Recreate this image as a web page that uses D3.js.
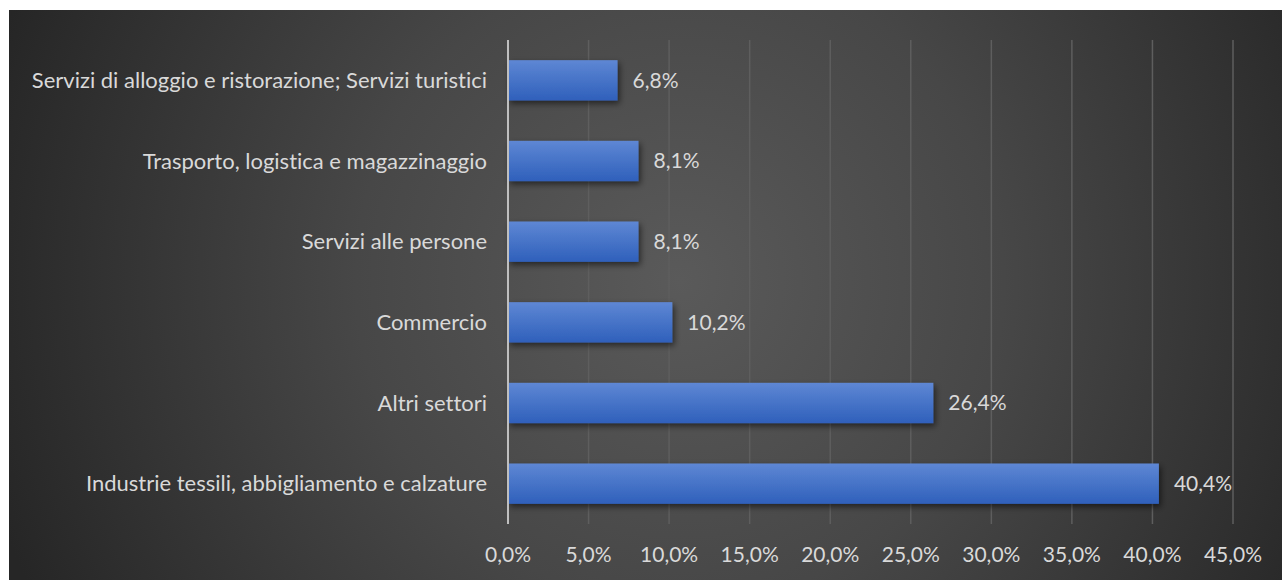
<!DOCTYPE html>
<html><head><meta charset="utf-8">
<script src="https://cdn.jsdelivr.net/npm/d3@7"></script>
<style>html,body{margin:0;padding:0;background:#fff;}svg{display:block;}text{font-variant-ligatures:none;font-feature-settings:"liga" 0;}</style>
</head><body>
<script>
const categories = [
  "Servizi di alloggio e ristorazione; Servizi turistici",
  "Trasporto, logistica e magazzinaggio",
  "Servizi alle persone",
  "Commercio",
  "Altri settori",
  "Industrie tessili, abbigliamento e calzature"
];
const values = [6.8, 8.1, 8.1, 10.2, 26.4, 40.4];
const tickValues = [0, 5, 10, 15, 20, 25, 30, 35, 40, 45];

const W = 1282, H = 580;
const font = "Lato, 'Open Sans', sans-serif";
const fmt = v => v.toFixed(1).replace(".", ",") + "%";

const svg = d3.select("body").append("svg").attr("width", W).attr("height", H);
const defs = svg.append("defs");
const rg = defs.append("radialGradient").attr("id", "bg")
  .attr("gradientUnits", "userSpaceOnUse").attr("cx", 680).attr("cy", 280).attr("r", 720);
rg.append("stop").attr("offset", "0").attr("stop-color", "#5a5a5a");
rg.append("stop").attr("offset", "0.45").attr("stop-color", "#474747");
rg.append("stop").attr("offset", "1").attr("stop-color", "#262626");
const lg = defs.append("linearGradient").attr("id", "bar").attr("x1", 0).attr("y1", 0).attr("x2", 0).attr("y2", 1);
lg.append("stop").attr("offset", "0").attr("stop-color", "#5e87d4");
lg.append("stop").attr("offset", "1").attr("stop-color", "#2f60bb");
const f = defs.append("filter").attr("id", "sh").attr("x", "-10%").attr("y", "-30%").attr("width", "130%").attr("height", "180%");
f.append("feDropShadow").attr("dx", 2).attr("dy", 3).attr("stdDeviation", 3).attr("flood-color", "#000").attr("flood-opacity", 0.55);

svg.append("rect").attr("x", 9).attr("y", 10).attr("width", W - 9).attr("height", H - 10).attr("fill", "url(#bg)");

const x = d3.scaleLinear().domain([0, 45]).range([508, 1233]);
const y = d3.scaleBand().domain(categories).range([40, 524]).paddingInner(0.5).paddingOuter(0.25);

// gridlines
svg.append("g").selectAll("line").data(tickValues.slice(1)).join("line")
  .attr("x1", d => x(d)).attr("x2", d => x(d)).attr("y1", 40).attr("y2", 524)
  .attr("stroke", "#5e5e5e").attr("stroke-width", 1.5);

// x tick labels
svg.append("g").selectAll("text").data(tickValues).join("text")
  .attr("x", d => x(d)).attr("y", 562).attr("text-anchor", "middle")
  .attr("fill", "#d9d9d9").attr("font-family", font).attr("font-size", 21)
  .text(d => fmt(d));

// bars
svg.append("g").selectAll("rect").data(categories).join("rect")
  .attr("x", x(0)).attr("y", (d) => y(d))
  .attr("width", (d, i) => x(values[i]) - x(0)).attr("height", y.bandwidth())
  .attr("fill", "url(#bar)").attr("filter", "url(#sh)");

// axis line
svg.append("line").attr("x1", x(0)).attr("x2", x(0)).attr("y1", 40).attr("y2", 524)
  .attr("stroke", "#bfbfbf").attr("stroke-width", 2);

// category labels
svg.append("g").selectAll("text").data(categories).join("text")
  .attr("x", 487).attr("y", d => y(d) + y.bandwidth() / 2).attr("dy", "0.35em")
  .attr("text-anchor", "end").attr("fill", "#d9d9d9")
  .attr("font-family", font).attr("font-size", 22).text(d => d);

// value labels
svg.append("g").selectAll("text").data(categories).join("text")
  .attr("x", (d, i) => x(values[i]) + 15).attr("y", d => y(d) + y.bandwidth() / 2).attr("dy", "0.35em")
  .attr("fill", "#d9d9d9").attr("font-family", font).attr("font-size", 21)
  .text((d, i) => fmt(values[i]));
</script>
</body></html>
